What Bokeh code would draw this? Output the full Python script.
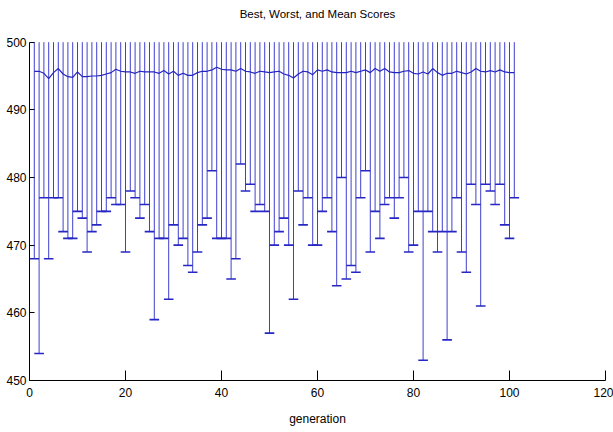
from bokeh.plotting import figure
from bokeh.models import Range1d, FixedTicker, Label
from bokeh.embed import file_html
from bokeh.resources import INLINE

generations = list(range(1, 102))

worst = [468, 454, 477, 468, 477, 477, 472, 471, 471, 475,
         474, 469, 472, 473, 475, 475, 477, 476, 476, 469,
         478, 477, 474, 476, 472, 459, 471, 471, 462, 473,
         470, 471, 467, 466, 469, 473, 474, 481, 471, 471,
         471, 465, 468, 482, 478, 479, 475, 476, 475, 457,
         470, 472, 474, 470, 462, 478, 473, 477, 470, 470,
         475, 477, 472, 464, 480, 465, 467, 466, 477, 481,
         469, 475, 471, 476, 477, 474, 477, 480, 469, 470,
         475, 453, 475, 472, 469, 472, 456, 472, 477, 469,
         466, 479, 476, 461, 479, 478, 476, 479, 473, 471,
         477]

best = [500, 500, 500, 500, 500, 500, 500, 500, 500, 500,
        500, 500, 500, 500, 500, 500, 500, 500, 500, 500,
        500, 500, 500, 500, 500, 500, 500, 500, 500, 500,
        500, 500, 500, 500, 500, 500, 500, 500, 500, 500,
        500, 500, 500, 500, 500, 500, 500, 500, 500, 500,
        500, 500, 500, 500, 500, 500, 500, 500, 500, 500,
        500, 500, 500, 500, 500, 500, 500, 500, 500, 500,
        500, 500, 500, 500, 500, 500, 500, 500, 500, 500,
        500, 500, 500, 500, 500, 500, 500, 500, 500, 500,
        500, 500, 500, 500, 500, 500, 500, 500, 500, 500,
        500]

mean = [495.7, 495.7, 495.4, 494.6, 495.5, 496.1, 495.3, 494.9, 494.8, 495.6,
        494.9, 494.9, 495.0, 495.0, 495.1, 495.3, 495.5, 496.0, 495.7, 495.6,
        495.6, 495.4, 495.7, 495.6, 495.6, 495.6, 495.4, 495.8, 495.3, 495.7,
        495.1, 495.4, 495.1, 495.1, 495.5, 495.7, 495.7, 495.9, 496.3, 496.0,
        495.9, 495.9, 495.7, 496.1, 495.7, 495.6, 495.4, 495.7, 495.6, 495.5,
        495.6, 495.7, 495.3, 495.1, 494.7, 495.3, 495.7, 495.6, 495.2, 495.9,
        495.7, 495.9, 495.6, 495.5, 495.5, 495.5, 495.7, 495.5, 495.7, 495.9,
        495.5, 496.1, 495.7, 496.1, 495.6, 495.5, 495.5, 495.7, 495.8, 495.4,
        495.3, 495.6, 495.3, 496.1, 495.5, 495.1, 495.4, 495.4, 495.7, 495.5,
        495.3, 495.6, 496.1, 495.7, 495.6, 495.8, 495.6, 495.9, 495.6, 495.5,
        495.5]

x_ticks = [0, 20, 40, 60, 80, 100, 120]
y_ticks = [450, 460, 470, 480, 490, 500]

title_text = "Best, Worst, and Mean Scores"
x_label = "generation"

FONT = "Liberation Sans"

# frame spans the full height above the x axis; the visible axes stop at 500,
# the headroom above it holds the title
p = figure(width=613, height=432, output_backend="svg", toolbar_location=None,
           x_range=Range1d(0, 120), y_range=Range1d(450, 506.16),
           min_border_left=29, min_border_right=8,
           min_border_top=0, min_border_bottom=52)
p.background_fill_color = "white"
p.border_fill_color = "white"
p.outline_line_color = None
p.grid.visible = False

# errorbar stems (worst -> best)
p.segment(x0=generations, y0=worst, x1=generations, y1=best,
          line_color="#4040d0", line_width=1)
# lower caps, half-width of one generation
cap_half = 1
p.segment(x0=[g - cap_half for g in generations], y0=worst,
          x1=[g + cap_half for g in generations], y1=worst,
          line_color="#2626c4", line_width=1.6)
# mean line
p.line(generations, mean, line_color="#2424c0", line_width=1.2)

for ax in (p.xaxis[0], p.yaxis[0]):
    ax.axis_line_color = "black"
    ax.axis_line_width = 1
    ax.major_tick_line_color = "black"
    ax.minor_tick_line_color = None
    ax.major_tick_out = 0
    ax.major_label_text_font = FONT
    ax.major_label_text_font_size = "12px"
    ax.major_label_text_color = "black"

p.xaxis.ticker = FixedTicker(ticks=x_ticks)
p.yaxis.ticker = FixedTicker(ticks=y_ticks)
p.yaxis.bounds = (450, 500)
p.xaxis.major_tick_in = 10
p.yaxis.major_tick_in = 5
p.xaxis.major_label_standoff = 7
p.yaxis.major_label_standoff = 3

p.xaxis.axis_label = x_label
p.xaxis.axis_label_text_font = FONT
p.xaxis.axis_label_text_font_size = "12px"
p.xaxis.axis_label_text_font_style = "normal"
p.xaxis.axis_label_text_color = "black"
p.xaxis.axis_label_standoff = 12

title = Label(x=60, y=504.2, text=title_text, text_align="center",
              text_baseline="middle", text_font=FONT, text_font_size="11.5px",
              text_color="black")
p.add_layout(title)

open("out.html", "w").write(file_html(p, INLINE))
